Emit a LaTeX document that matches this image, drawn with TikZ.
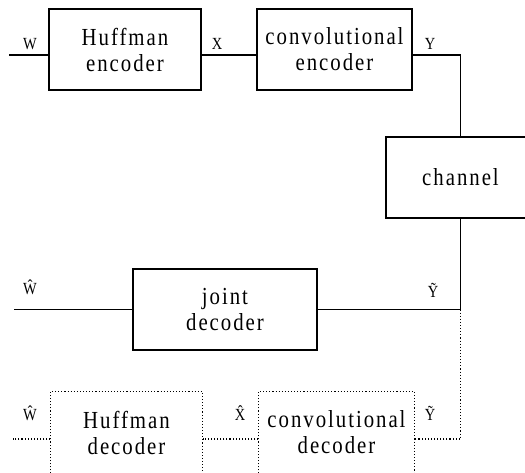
\documentclass[tikz,border=0pt]{standalone}
\usepackage{fontspec}
\setmainfont{Liberation Serif}
\newfontfamily\boxfont[LetterSpace=8,FakeStretch=0.85]{Liberation Serif}
\newfontfamily\sigfont[FakeStretch=0.85]{Liberation Serif}
\begin{document}
\begin{tikzpicture}[x=1pt,y=-1pt,
  block/.style={draw,line width=1.1pt,inner sep=0pt,align=center,
    font=\boxfont\fontsize{24.5}{26}\selectfont},
  dotblock/.style={block,draw=none},
  wire/.style={line width=1.1pt},
  dotwire/.style={line width=1.2pt,dash pattern=on 1.1pt off 2pt},
  sig/.style={font=\sigfont\fontsize{17}{19}\selectfont,inner sep=0pt}]
\useasboundingbox (0,0) rectangle (525,472);
\clip (0,0) rectangle (525,472);

% encoder chain
\node[block,minimum width=152pt,minimum height=81pt] (he) at (125,49.5) {Huffman\\encoder};
\node[block,minimum width=155pt,minimum height=81pt] (ce) at (334.5,49.5) {convolutional\\encoder};
\node[block,minimum width=149pt,minimum height=81pt] (ch) at (460.5,177.5) {channel};

% joint decoding
\node[block,minimum width=184pt,minimum height=81pt] (jd) at (225,309.5) {joint\\decoder};

% separate decoding
\node[dotblock,minimum width=151pt,minimum height=81pt] (hd) at (126.5,432.5) {Huffman\\decoder};
\node[dotblock,minimum width=155pt,minimum height=81pt] (cd) at (336.5,432.5) {convolutional\\decoder};
\draw[dotwire] (hd.south west) -- (hd.north west) -- (hd.north east) -- (hd.south east);
\draw[dotwire] (cd.south west) -- (cd.north west) -- (cd.north east) -- (cd.south east);

\coordinate (win) at (9,55);
\coordinate (what) at (14,309.5);
\coordinate (wdot) at (13,439);
\coordinate (ydot) at (460.5,439);

% connectors
\draw[wire] (win) -- (win -| he.west);
\draw[wire] (he.east |- win) -- (ce.west |- win);
\draw[wire] (ce.east |- win) -| (ch.north);
\draw[wire] (ch.south) |- (jd.east);
\draw[wire] (what) -- (jd.west);
\draw[dotwire] (ch.south |- jd.east) -- (ydot) -- (ydot -| cd.east);
\draw[dotwire] (cd.west |- wdot) -- (hd.east |- wdot);
\draw[dotwire] (hd.west |- wdot) -- (wdot);

% signal labels
\node[sig] (lw) at (30,44) {W};
\node[sig] (lx) at (217,44) {X};
\node[sig] (ly) at (430,44) {Y};
\node[sig] (lwh) at (30,287) {\^W};
\node[sig] (lyt) at (433,290) {\~Y};
\node[sig] (lwh2) at (30,413) {\^W};
\node[sig] (lxh) at (240,413) {\^X};
\node[sig] (lyt2) at (430,413) {\~Y};
\end{tikzpicture}
\end{document}
